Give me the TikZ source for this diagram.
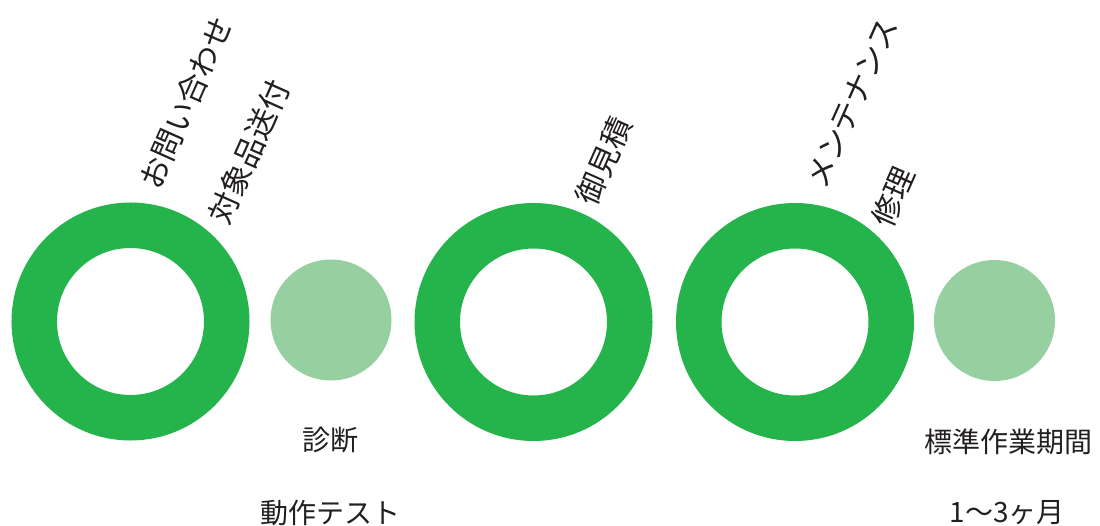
\documentclass[tikz,border=0pt]{standalone}
\usepackage{fontspec}
\setmainfont{Noto Sans CJK JP}
\definecolor{ringgreen}{HTML}{25B34B}
\definecolor{lightgreen}{HTML}{96CFA0}
\definecolor{txt}{HTML}{231F20}
\begin{document}
\begin{tikzpicture}[x=1pt,y=-1pt,
  ring/.style={circle,draw=ringgreen,line width=45.5pt,inner sep=0pt,minimum size=192.5pt},
  dot/.style={circle,fill=lightgreen,inner sep=0pt,minimum size=121pt},
  rlabel/.style={rotate=66,text=txt,font=\fontsize{30.5}{33}\selectfont,inner sep=0pt},
  hlabel/.style={text=txt,font=\fontsize{28}{32}\selectfont,inner sep=0pt}]
\useasboundingbox (0,0) rectangle (1100,526);
\node[ring] (r1) at (130.5,321.5) {};
\node[dot] (d1) at (331,320) {};
\node[ring] (r2) at (533.5,322) {};
\node[ring] (r3) at (795,322) {};
\node[dot] (d2) at (994.5,320.5) {};
\node[rlabel] (t1) at (186,103) {お問い合わせ};
\node[rlabel] (t2) at (249,152) {対象品送付};
\node[rlabel] (t3) at (604,161) {御見積};
\node[rlabel] (t4) at (852,103) {メンテナンス};
\node[rlabel] (t5) at (893,197) {修理};
\node[hlabel] (b1) at (330,440) {診断};
\node[hlabel] (b2) at (330,513) {動作テスト};
\node[hlabel] (b3) at (1008,442) {標準作業期間};
\node[hlabel] (b4) at (1007,513) {1〜3ヶ月};
\end{tikzpicture}
\end{document}
